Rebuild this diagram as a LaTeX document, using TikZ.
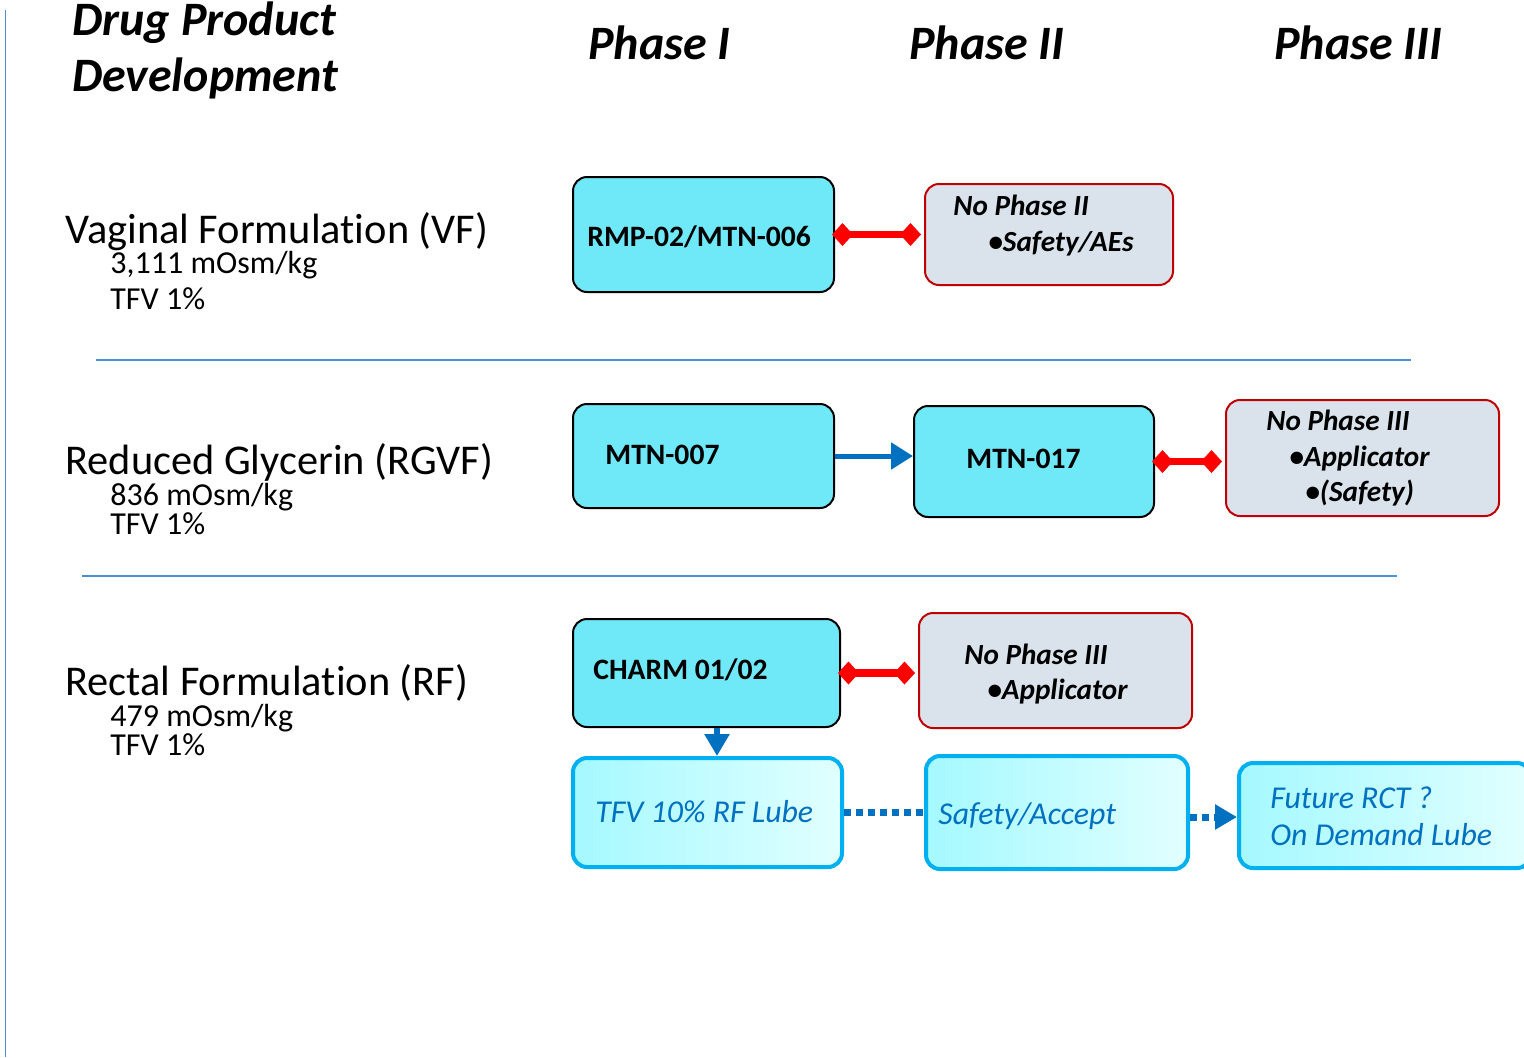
\documentclass[tikz,border=0pt]{standalone}
\usepackage{fontspec}
\setmainfont{Carlito}[Ligatures={NoCommon}]
\usetikzlibrary{arrows.meta}
\definecolor{cyanfill}{HTML}{6FE8F8}
\definecolor{grayfill}{HTML}{DAE3EC}
\definecolor{darkred}{HTML}{C00000}
\definecolor{brightred}{HTML}{FF0000}
\definecolor{arrowblue}{HTML}{0070C0}
\definecolor{rulblue}{HTML}{4A8FD6}
\definecolor{lightborder}{HTML}{00B0F0}
\definecolor{lubeleft}{HTML}{A4F9FF}
\definecolor{luberight}{HTML}{E2FFFF}
\tikzset{
  x=0.5pt, y=-0.5pt,
  cbox/.style={draw=black, line width=1pt, fill=cyanfill, rounded corners=7pt, inner sep=0pt},
  gbox/.style={draw=darkred, line width=1pt, fill=grayfill, rounded corners=7pt, inner sep=0pt},
  lbox/.style={draw=lightborder, line width=2pt, left color=lubeleft, right color=luberight, rounded corners=7pt, inner sep=0pt},
  boxtxt/.style={font=\fontsize{14.8}{17}\selectfont\bfseries, anchor=base west, inner sep=0pt},
  notxt/.style={font=\fontsize{14.6}{17}\selectfont\bfseries\itshape, anchor=base west, inner sep=0pt},
  lubetxt/.style={font=\fontsize{15.9}{18}\selectfont\itshape, text=arrowblue, anchor=base west, inner sep=0pt},
  headtxt/.style={font=\fontsize{24}{27}\selectfont\bfseries\itshape, anchor=base west, inner sep=0pt},
  rowtxt/.style={font=\fontsize{21.2}{24}\selectfont, anchor=base west, inner sep=0pt},
  subtxt/.style={font=\fontsize{16}{19}\selectfont, anchor=base west, inner sep=0pt},
  redlink/.style={draw=brightred, line width=3.6pt, {Diamond[length=10.5pt,width=11.5pt]}-{Diamond[length=10.5pt,width=11.5pt]}, shorten <=-1.5pt, shorten >=1.5pt},
  bluelink/.style={draw=arrowblue, line width=2.5pt, -{Triangle[length=11pt,width=13pt]}},
  dotlink/.style={draw=arrowblue, line width=3.5pt, dash pattern=on 3.5pt off 2.5pt},
  dotarrow/.style={draw=arrowblue, line width=3.5pt, dash pattern=on 3.5pt off 2.5pt, -{Triangle[length=11pt,width=12pt]}},
  rule/.style={draw=rulblue, line width=0.6pt}
}
\begin{document}
\begin{tikzpicture}
\useasboundingbox (0,0) rectangle (1524,1057);
\fill[white] (0,0) rectangle (1524,1057);
% left rule
\coordinate (vt) at (5.5,10);
\coordinate (vb) at (5.5,1057);
\draw[rule, line width=0.9pt] (vt) -- (vb);
% headings
\node[headtxt] (h1) at (72,35) {Drug Product};
\node[headtxt] (h2) at (72,91) {Development};
\node[headtxt] (p1) at (588,59) {Phase I};
\node[headtxt] (p2) at (909,59) {Phase II};
\node[headtxt] (p3) at (1274,59) {Phase III};
% row labels
\node[rowtxt] (r1) at (65,243) {Vaginal Formulation (VF)};
\node[subtxt] (r1a) at (110,273) {3,111 mOsm/kg};
\node[subtxt] (r1b) at (110,309) {TFV 1\%};
\node[rowtxt] (r2) at (65,474) {Reduced Glycerin (RGVF)};
\node[subtxt] (r2a) at (110,505) {836 mOsm/kg};
\node[subtxt] (r2b) at (110,534) {TFV 1\%};
\node[rowtxt] (r3) at (65,695) {Rectal Formulation (RF)};
\node[subtxt] (r3a) at (110,726) {479 mOsm/kg};
\node[subtxt] (r3b) at (110,755) {TFV 1\%};
% separators
\coordinate (s1a) at (96,360); \coordinate (s1b) at (1411,360);
\coordinate (s2a) at (82,576); \coordinate (s2b) at (1397,576);
\draw[rule] (s1a) -- (s1b);
\draw[rule] (s2a) -- (s2b);
% row 1
\node[cbox, minimum width=130.5pt, minimum height=57.5pt] (rmp) at (703.5,234.5) {};
\node[boxtxt] (rmpt) at (587,246) {RMP-02/MTN-006};
\node[gbox, minimum width=124pt, minimum height=50.5pt] (np2) at (1049,234.5) {};
\node[notxt] (np2a) at (953,215) {No Phase II};
\node[notxt] (np2b) at (988,251) {\textbullet Safety/AEs};
\draw[redlink] (rmp.east) -- (np2.west);
% row 2
\node[cbox, minimum width=130.5pt, minimum height=52pt] (m7) at (703.5,456) {};
\node[boxtxt] (m7t) at (605,464) {MTN-007};
\node[cbox, minimum width=120pt, minimum height=55.5pt] (m17) at (1034,461.5) {};
\node[boxtxt] (m17t) at (966,468) {MTN-017};
\node[gbox, minimum width=136.5pt, minimum height=58pt] (np3a) at (1362.5,458) {};
\node[notxt] (np3a1) at (1266,430) {No Phase III};
\node[notxt] (np3a2) at (1289,466) {\textbullet Applicator};
\node[notxt] (np3a3) at (1305,501) {\textbullet (Safety)};
\draw[bluelink] (m7.east) -- (m17.west |- m7.east);
\draw[redlink] (m17.east) -- (np3a.west |- m17.east);
% row 3
\node[cbox, minimum width=133.5pt, minimum height=54pt] (ch) at (706.5,673) {};
\node[boxtxt] (cht) at (593,679) {CHARM 01/02};
\node[gbox, minimum width=136.5pt, minimum height=57.5pt] (np3b) at (1055.5,670.5) {};
\node[notxt] (np3b1) at (964,664) {No Phase III};
\node[notxt] (np3b2) at (987,699) {\textbullet Applicator};
\draw[redlink] (ch.east) -- (np3b.west |- ch.east);
\node[lbox, minimum width=134.5pt, minimum height=54.5pt] (tfv) at (707.5,812.5) {};
\node[lubetxt] (tfvt) at (595,822) {TFV 10\% RF Lube};
\node[lbox, minimum width=131pt, minimum height=56.5pt] (sa) at (1057,812.5) {};
\node[lubetxt] (sat) at (938,824) {Safety/Accept};
\node[lbox, minimum width=146pt, minimum height=52.5pt] (fr) at (1385,815.5) {};
\node[lubetxt] (fr1) at (1270,808) {Future RCT ?};
\node[lubetxt] (fr2) at (1270,845) {On Demand Lube};
\coordinate (dx) at (717,0);
\draw[dotarrow, line width=3pt] (ch.south -| dx) -- (tfv.north -| dx);
\draw[dotlink] (tfv.east |- 0,812) -- (sa.west |- 0,812);
\draw[dotarrow] (sa.east |- 0,817) -- (fr.west |- 0,817);
\end{tikzpicture}
\end{document}
